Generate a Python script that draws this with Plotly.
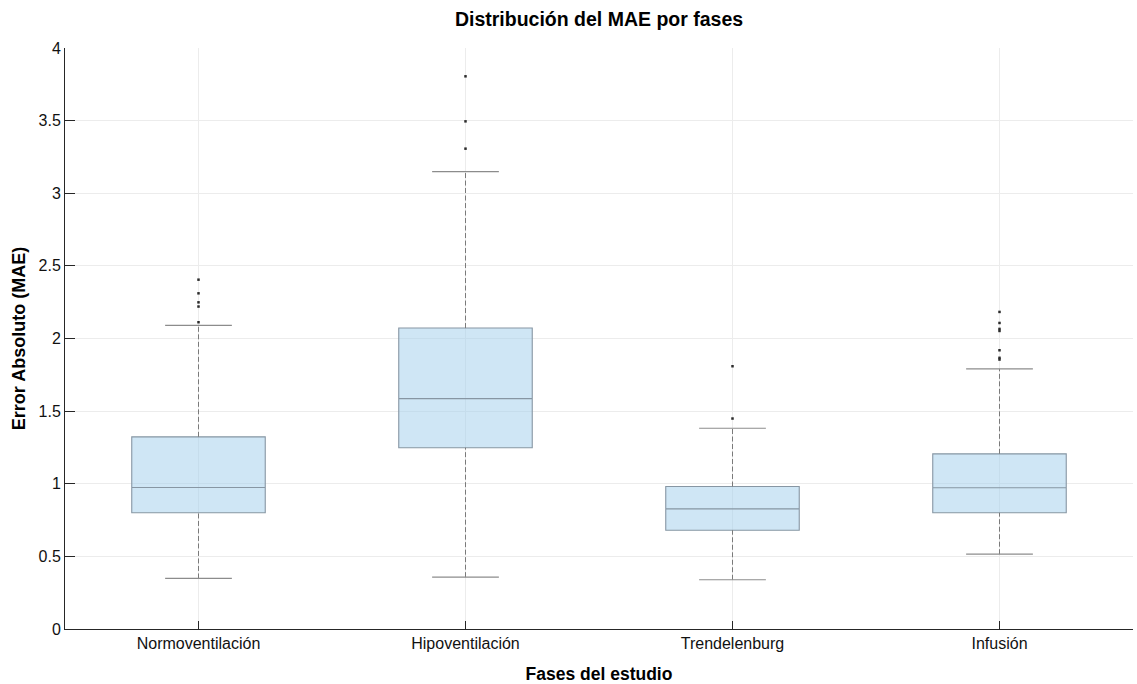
import plotly.graph_objects as go

# Summary statistics of the absolute error per study phase
fases = ["Normoventilación", "Hipoventilación", "Trendelenburg", "Infusión"]
q1 = [0.800, 1.248, 0.680, 0.800]
mediana = [0.974, 1.586, 0.827, 0.972]
q3 = [1.323, 2.072, 0.981, 1.206]
bigote_inf = [0.348, 0.357, 0.339, 0.515]
bigote_sup = [2.091, 3.149, 1.382, 1.791]
atipicos = [
    [2.405, 2.311, 2.249, 2.220, 2.112],
    [3.805, 3.495, 3.307],
    [1.809, 1.449],
    [2.183, 2.107, 2.066, 2.052, 1.919, 1.867, 1.855],
]

y_ticks = [0, 0.5, 1, 1.5, 2, 2.5, 3, 3.5, 4]
y_tick_text = ["0", "0.5", "1", "1.5", "2", "2.5", "3", "3.5", "4"]

pos = list(range(1, len(fases) + 1))
ancho_caja = 0.5
ancho_tope = 0.25

edge = "#8796a3"
whisk = "#7a7a7a"

fig = go.Figure()

# Dashed whiskers (drawn first so the boxes sit on top)
for i, x in enumerate(pos):
    for a, b in ((q3[i], bigote_sup[i]), (bigote_inf[i], q1[i])):
        fig.add_trace(go.Scatter(
            x=[x, x], y=[a, b], mode="lines",
            line=dict(color=whisk, width=1, dash="5px,2.5px"),
            hoverinfo="skip", showlegend=False))
    # whisker caps
    for v in (bigote_sup[i], bigote_inf[i]):
        fig.add_trace(go.Scatter(
            x=[x - ancho_tope / 2, x + ancho_tope / 2], y=[v, v], mode="lines",
            line=dict(color="#8c8c8c", width=1.2),
            hoverinfo="skip", showlegend=False))

# Boxes built from the precomputed quartiles
fig.add_trace(go.Box(
    x=pos, q1=q1, median=mediana, q3=q3,
    lowerfence=q1, upperfence=q3,
    width=ancho_caja, whiskerwidth=0,
    fillcolor="rgba(160,205,235,0.5)",
    line=dict(color=edge, width=1.1),
    boxpoints=False, hoverinfo="skip", showlegend=False))

# Outliers
for i, x in enumerate(pos):
    fig.add_trace(go.Scatter(
        x=[x] * len(atipicos[i]), y=atipicos[i], mode="markers",
        marker=dict(color="#2b2b2b", size=2.5, symbol="square"),
        hoverinfo="skip", showlegend=False))

font_family = "Liberation Sans, Arial, sans-serif"
axis_color = "#262626"
grid_color = "#ececec"

fig.update_layout(
    width=1137, height=684,
    margin=dict(l=65, r=4, t=48, b=55),
    paper_bgcolor="white", plot_bgcolor="white",
    font=dict(family=font_family, size=16, color=axis_color),
    title=dict(text="<b>Distribución del MAE por fases</b>",
               x=(65 + 1133) / 2 / 1137, xanchor="center",
               y=1 - 19 / 684, yanchor="middle",
               font=dict(size=19.5, color="black")),
    xaxis=dict(
        range=[0.5, 4.5], tickmode="array", tickvals=pos, ticktext=fases,
        showgrid=True, gridcolor=grid_color, gridwidth=1,
        showline=True, linecolor=axis_color, linewidth=1,
        ticks="inside", ticklen=8, tickcolor=axis_color,
        tickfont=dict(size=16, color="#111111"),
        zeroline=False,
        title=dict(text="<b>Fases del estudio</b>",
                   font=dict(size=17.5, color="black"), standoff=17),
    ),
    yaxis=dict(
        range=[0, 4], tickmode="array", tickvals=y_ticks, ticktext=y_tick_text,
        showgrid=True, gridcolor=grid_color, gridwidth=1,
        showline=True, linecolor=axis_color, linewidth=1,
        ticks="inside", ticklen=10, tickcolor=axis_color,
        tickfont=dict(size=16, color="#111111"),
        zeroline=False,
        title=dict(text="<b>Error Absoluto (MAE)</b>",
                   font=dict(size=18, color="black"), standoff=8),
    ),
)

fig.write_html("out.html")
